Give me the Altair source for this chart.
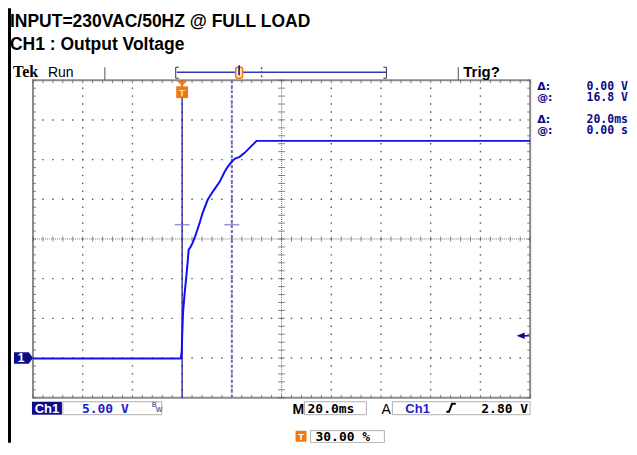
import altair as alt
import pandas as pd

trace_t = [-60, -0.56, -0.16, 0.04, 0.36, 1.04, 1.85, 2.65, 3.45, 4.26, 5.06, 7.07, 8.27,
           10.28, 12.29, 15.10, 17.11, 18.31, 19.92, 21.12, 23.13, 25.14, 27.15, 29.16, 29.96, 140]
trace_v = [-0.05, -0.05, 0.82, 2.96, 5.72, 8.24, 10.76, 13.65, 14.03, 14.53, 15.16, 17.04, 18.30,
           19.94, 20.94, 22.20, 23.46, 24.09, 24.72, 25.10, 25.35, 25.85, 26.48, 27.11, 27.36, 27.36]

t_min, t_max = -60, 140          # 20 ms/div, 10 divisions, trigger at 30 %
v_min, v_max = -5, 35            # 5 V/div, 8 divisions
t_div, v_div = 20, 5
t_center, v_center = 40, 15
cursor_t = [0, 20]               # delta 20.0 ms, @ 0.00 s
cursor_v = 16.8                  # delta 0.00 V, @ 16.8 V
trig_level = 2.80
gnd_level = 0

title_lines = ["INPUT=230VAC/50HZ @ FULL LOAD", "CH1 : Output Voltage"]
readouts = [("\u0394:", "0.00 V"), ("@:", "16.8 V"), ("\u0394:", "20.0ms"), ("@:", "0.00 s")]

# ---------------- style ----------------
W, H = 498, 318
NAVY = "#0c0c8a"
BLUE_TXT = "#1e1ec8"
TRACE = "#1010f4"
CURSOR = "#1c1c9c"
CURSOR_DASH = "#6a6ac8"
ORANGE = "#f07a10"
GRID = "#555555"
MONO = "DejaVu Sans Mono"
SANS = "Liberation Sans"

xs = alt.Scale(domain=[t_min, t_max], nice=False, zero=False)
ys = alt.Scale(domain=[v_min, v_max], nice=False, zero=False)


def X(f):
    return alt.X(f, type="quantitative", scale=xs, axis=None)


def Y(f):
    return alt.Y(f, type="quantitative", scale=ys, axis=None)


def ONE():
    return pd.DataFrame({"a": [1]})


def txt(s, cx, cy, size=13, color="black", font=MONO, weight="bold", align="left"):
    return alt.Chart(ONE()).mark_text(text=s, fontSize=size, color=color, font=font,
                                      fontWeight=weight, align=align, baseline="alphabetic").encode(
        x=alt.value(cx), y=alt.value(cy))


def box(x1, x2, y1, y2, fill="white", stroke="#b0b0b0", sw=1, radius=0):
    m = dict(fill=fill, strokeWidth=sw, cornerRadius=radius)
    if stroke:
        m["stroke"] = stroke
    return alt.Chart(ONE()).mark_rect(**m).encode(
        x=alt.value(x1), x2=alt.value(x2), y=alt.value(y1), y2=alt.value(y2))


def seg(x1, x2, y1, y2, color="black", sw=1, dash=None):
    m = dict(color=color, strokeWidth=sw)
    if dash:
        m["strokeDash"] = dash
    return alt.Chart(ONE()).mark_rule(**m).encode(
        x=alt.value(x1), x2=alt.value(x2), y=alt.value(y1), y2=alt.value(y2))


# ---------------- graticule ----------------
minor_t = [t_min + 4 * k for k in range(51)]
minor_v = [v_min + 1 * k for k in range(41)]
major_t = [t_min + t_div * k for k in range(11)]
major_v = [v_min + v_div * k for k in range(9)]

dots = []
for v in major_v[1:-1]:
    if v == v_center:
        continue
    for t in minor_t[1:-1]:
        dots.append({"t": t, "v": v})
for t in major_t[1:-1]:
    if t == t_center:
        continue
    for v in minor_v[1:-1]:
        dots.append({"t": t, "v": v})
dots_df = pd.DataFrame(dots)

grid_dots = alt.Chart(dots_df).mark_square(size=2, color=GRID, opacity=1).encode(x=X("t"), y=Y("v"))

tdf = pd.DataFrame({"t": minor_t, "vc": v_center, "vt": v_max, "vb": v_min})
vdf = pd.DataFrame({"v": minor_v, "tc": t_center, "tl": t_min, "tr": t_max})
cl = pd.DataFrame({"t0": [t_min], "t1": [t_max], "tc": [t_center],
                   "v0": [v_min], "v1": [v_max], "vc": [v_center]})

center_h = alt.Chart(cl).mark_rule(color="#777", strokeDash=[1, 1]).encode(
    x=X("t0"), x2="t1", y=Y("vc"))
center_v = alt.Chart(cl).mark_rule(color="#777", strokeDash=[1, 1]).encode(
    y=Y("v0"), y2="v1", x=X("tc"))
center_h_ticks = alt.Chart(tdf).mark_tick(orient="vertical", size=5, thickness=1, color=GRID).encode(
    x=X("t"), y=Y("vc"))
center_v_ticks = alt.Chart(vdf).mark_tick(orient="horizontal", size=7, thickness=1, color=GRID).encode(
    y=Y("v"), x=X("tc"))
top_ticks = alt.Chart(tdf).mark_tick(orient="vertical", size=3, thickness=1, color=GRID, yOffset=1.5).encode(
    x=X("t"), y=Y("vt"))
bot_ticks = alt.Chart(tdf).mark_tick(orient="vertical", size=3, thickness=1, color=GRID, yOffset=-1.5).encode(
    x=X("t"), y=Y("vb"))
left_ticks = alt.Chart(vdf).mark_tick(orient="horizontal", size=3, thickness=1, color=GRID, xOffset=1.5).encode(
    y=Y("v"), x=X("tl"))
right_ticks = alt.Chart(vdf).mark_tick(orient="horizontal", size=3, thickness=1, color=GRID, xOffset=-1.5).encode(
    y=Y("v"), x=X("tr"))

# ---------------- cursors / trace ----------------
cur_df = pd.DataFrame({"t": cursor_t, "v0": v_min, "v1": v_max, "hv": cursor_v})
cursor1 = alt.Chart(cur_df.iloc[[0]]).mark_rule(color=CURSOR, strokeWidth=1.3).encode(
    x=X("t"), y=Y("v0"), y2="v1")
cursor2 = alt.Chart(cur_df.iloc[[1]]).mark_rule(color=CURSOR_DASH, strokeWidth=2, strokeDash=[3, 2]).encode(
    x=X("t"), y=Y("v0"), y2="v1")
hcur = alt.Chart(cur_df).mark_tick(orient="horizontal", size=15, thickness=1.5, color=CURSOR_DASH).encode(
    x=X("t"), y=Y("hv"))

trace_df = pd.DataFrame({"t": trace_t, "v": trace_v})
trace = alt.Chart(trace_df).mark_line(color=TRACE, strokeWidth=2, interpolate="linear").encode(
    x=X("t"), y=Y("v"))

trig_df = pd.DataFrame({"t": [cursor_t[0]]})
trig_tri = alt.Chart(trig_df).mark_point(shape="M-1,-0.5 L1,-0.5 L0,0.5 Z", size=121, filled=True,
                                         color=ORANGE, opacity=1).encode(x=X("t"), y=alt.value(3))
trig_sq = alt.Chart(trig_df).mark_square(size=140, color=ORANGE, opacity=1).encode(
    x=X("t"), y=alt.value(12))
trig_T = alt.Chart(trig_df).mark_text(text="T", fontSize=10, fontWeight="bold", color="#ffd9b0",
                                      font=SANS, baseline="middle").encode(x=X("t"), y=alt.value(12.5))

lvl_df = pd.DataFrame({"v": [trig_level]})
lvl_arrow = alt.Chart(lvl_df).mark_point(shape="M1,-0.8 L-1,0 L1,0.8 Z", size=64, filled=True,
                                         color=NAVY, opacity=1).encode(x=alt.value(488.5), y=Y("v"))
lvl_line = alt.Chart(lvl_df).mark_rule(color=NAVY, strokeWidth=1.5).encode(
    x=alt.value(490), x2=alt.value(497), y=Y("v"))

gnd_df = pd.DataFrame({"v": [gnd_level]})
gnd = alt.Chart(gnd_df).mark_point(shape="M-1,-0.6 L0.55,-0.6 L1,0 L0.55,0.6 L-1,0.6 Z", size=361,
                                   filled=True, color=NAVY, opacity=1).encode(x=alt.value(-9.5), y=Y("v"))
gnd_t = alt.Chart(gnd_df).mark_text(text="1", fontSize=12, fontWeight="bold", color="white",
                                    font=SANS, baseline="middle").encode(x=alt.value(-12), y=Y("v"))

layers = [grid_dots, center_h, center_v, center_h_ticks, center_v_ticks,
          top_ticks, bot_ticks, left_ticks, right_ticks,
          cursor1, cursor2, hcur, trace, trig_tri, trig_sq, trig_T, lvl_arrow, lvl_line, gnd, gnd_t]

# ---------------- header / footer ----------------
layers.append(box(-25, -22, -72, 363, fill="black", stroke=None))
layers.append(txt(title_lines[0], -23, -53, size=17.5, font=SANS, color="black"))
layers.append(txt(title_lines[1], -23, -30, size=17.5, font=SANS, color="black"))
layers.append(txt("Tek", -20, -3, size=16, font="Liberation Serif", color="black"))
layers.append(txt("Run", 15, -3, size=14, font=SANS, weight="normal", color="black"))
layers.append(seg(72, 72, -13, 0, color="#555"))
layers.append(seg(426, 426, -13, 0, color="#555"))
layers.append(seg(144, 354, -8, -8, color="#3535c0", sw=1.5))
layers.append(seg(143, 143, -13, -2, color="#333"))
layers.append(seg(143, 146, -13, -13, color="#333"))
layers.append(seg(143, 146, -2, -2, color="#333"))
layers.append(seg(354, 354, -13, -2, color="#333"))
layers.append(seg(351, 354, -13, -13, color="#333"))
layers.append(seg(351, 354, -2, -2, color="#333"))
layers.append(seg(229, 229, -13, -2, color="#4545c0", sw=1.5, dash=[2, 2]))
layers.append(box(203, 210, -13, -2, fill="#ffe2c4", stroke=ORANGE, sw=1.5, radius=2))
layers.append(seg(206.5, 206.5, -15, -5, color=NAVY, sw=1.5))
layers.append(txt("Trig?", 431, -3, size=15, font=SANS, color="black"))

ry = [10, 21, 43, 54]
for (lab, val), yy in zip(readouts, ry):
    layers.append(txt(lab, 505, yy, size=11, font="DejaVu Sans", color=NAVY))
    layers.append(txt(val, 596, yy, size=11.5, font=MONO, color=NAVY, align="right"))

layers.append(box(-1, 29, 322, 335, fill=NAVY, stroke=None))
layers.append(txt("Ch1", 14, 333, size=13, font=SANS, color="white", align="center"))
layers.append(box(30, 129, 322, 335))
layers.append(txt("5.00 V", 49, 333, size=13, font=MONO, color=BLUE_TXT))
layers.append(txt("B", 119, 327, size=7, font=SANS, color="#6a6aa8"))
layers.append(txt("W", 123, 332, size=7, font=SANS, color="#6a6aa8"))
layers.append(txt("M", 260, 334, size=14, font=SANS, color="black"))
layers.append(box(272, 334, 322, 335))
layers.append(txt("20.0ms", 275, 333, size=13, font=MONO, color="black"))
layers.append(txt("A", 349, 334, size=14, font=SANS, weight="normal", color="black"))
layers.append(box(360, 498, 322, 335))
layers.append(txt("Ch1", 373, 333, size=13, font=SANS, color=BLUE_TXT))
layers.append(alt.Chart(ONE()).mark_point(shape="M-1,0.8 L-0.45,0.8 L0.15,-0.8 L0.9,-0.8", size=100,
                                          filled=False, color="black", strokeWidth=2, opacity=1).encode(
    x=alt.value(419), y=alt.value(328)))
layers.append(txt("2.80 V", 496, 333, size=13, font=MONO, color="black", align="right"))

layers.append(box(263, 274, 351, 362, fill=ORANGE, stroke=None, radius=1))
layers.append(txt("T", 268.5, 360, size=10, font=SANS, color="white", align="center"))
layers.append(box(278, 352, 351, 363))
layers.append(txt("30.00 %", 283, 361, size=13, font=MONO, color="black"))

chart = alt.layer(*layers).properties(
    width=W, height=H,
    padding={"left": 25, "top": 72, "right": 99, "bottom": 45},
    autosize=alt.AutoSizeParams(type="none"),
    background="white",
).configure_view(stroke="#8c8c8c", strokeWidth=2)

chart.save("out.html", embed_options={"renderer": "svg", "actions": False})
